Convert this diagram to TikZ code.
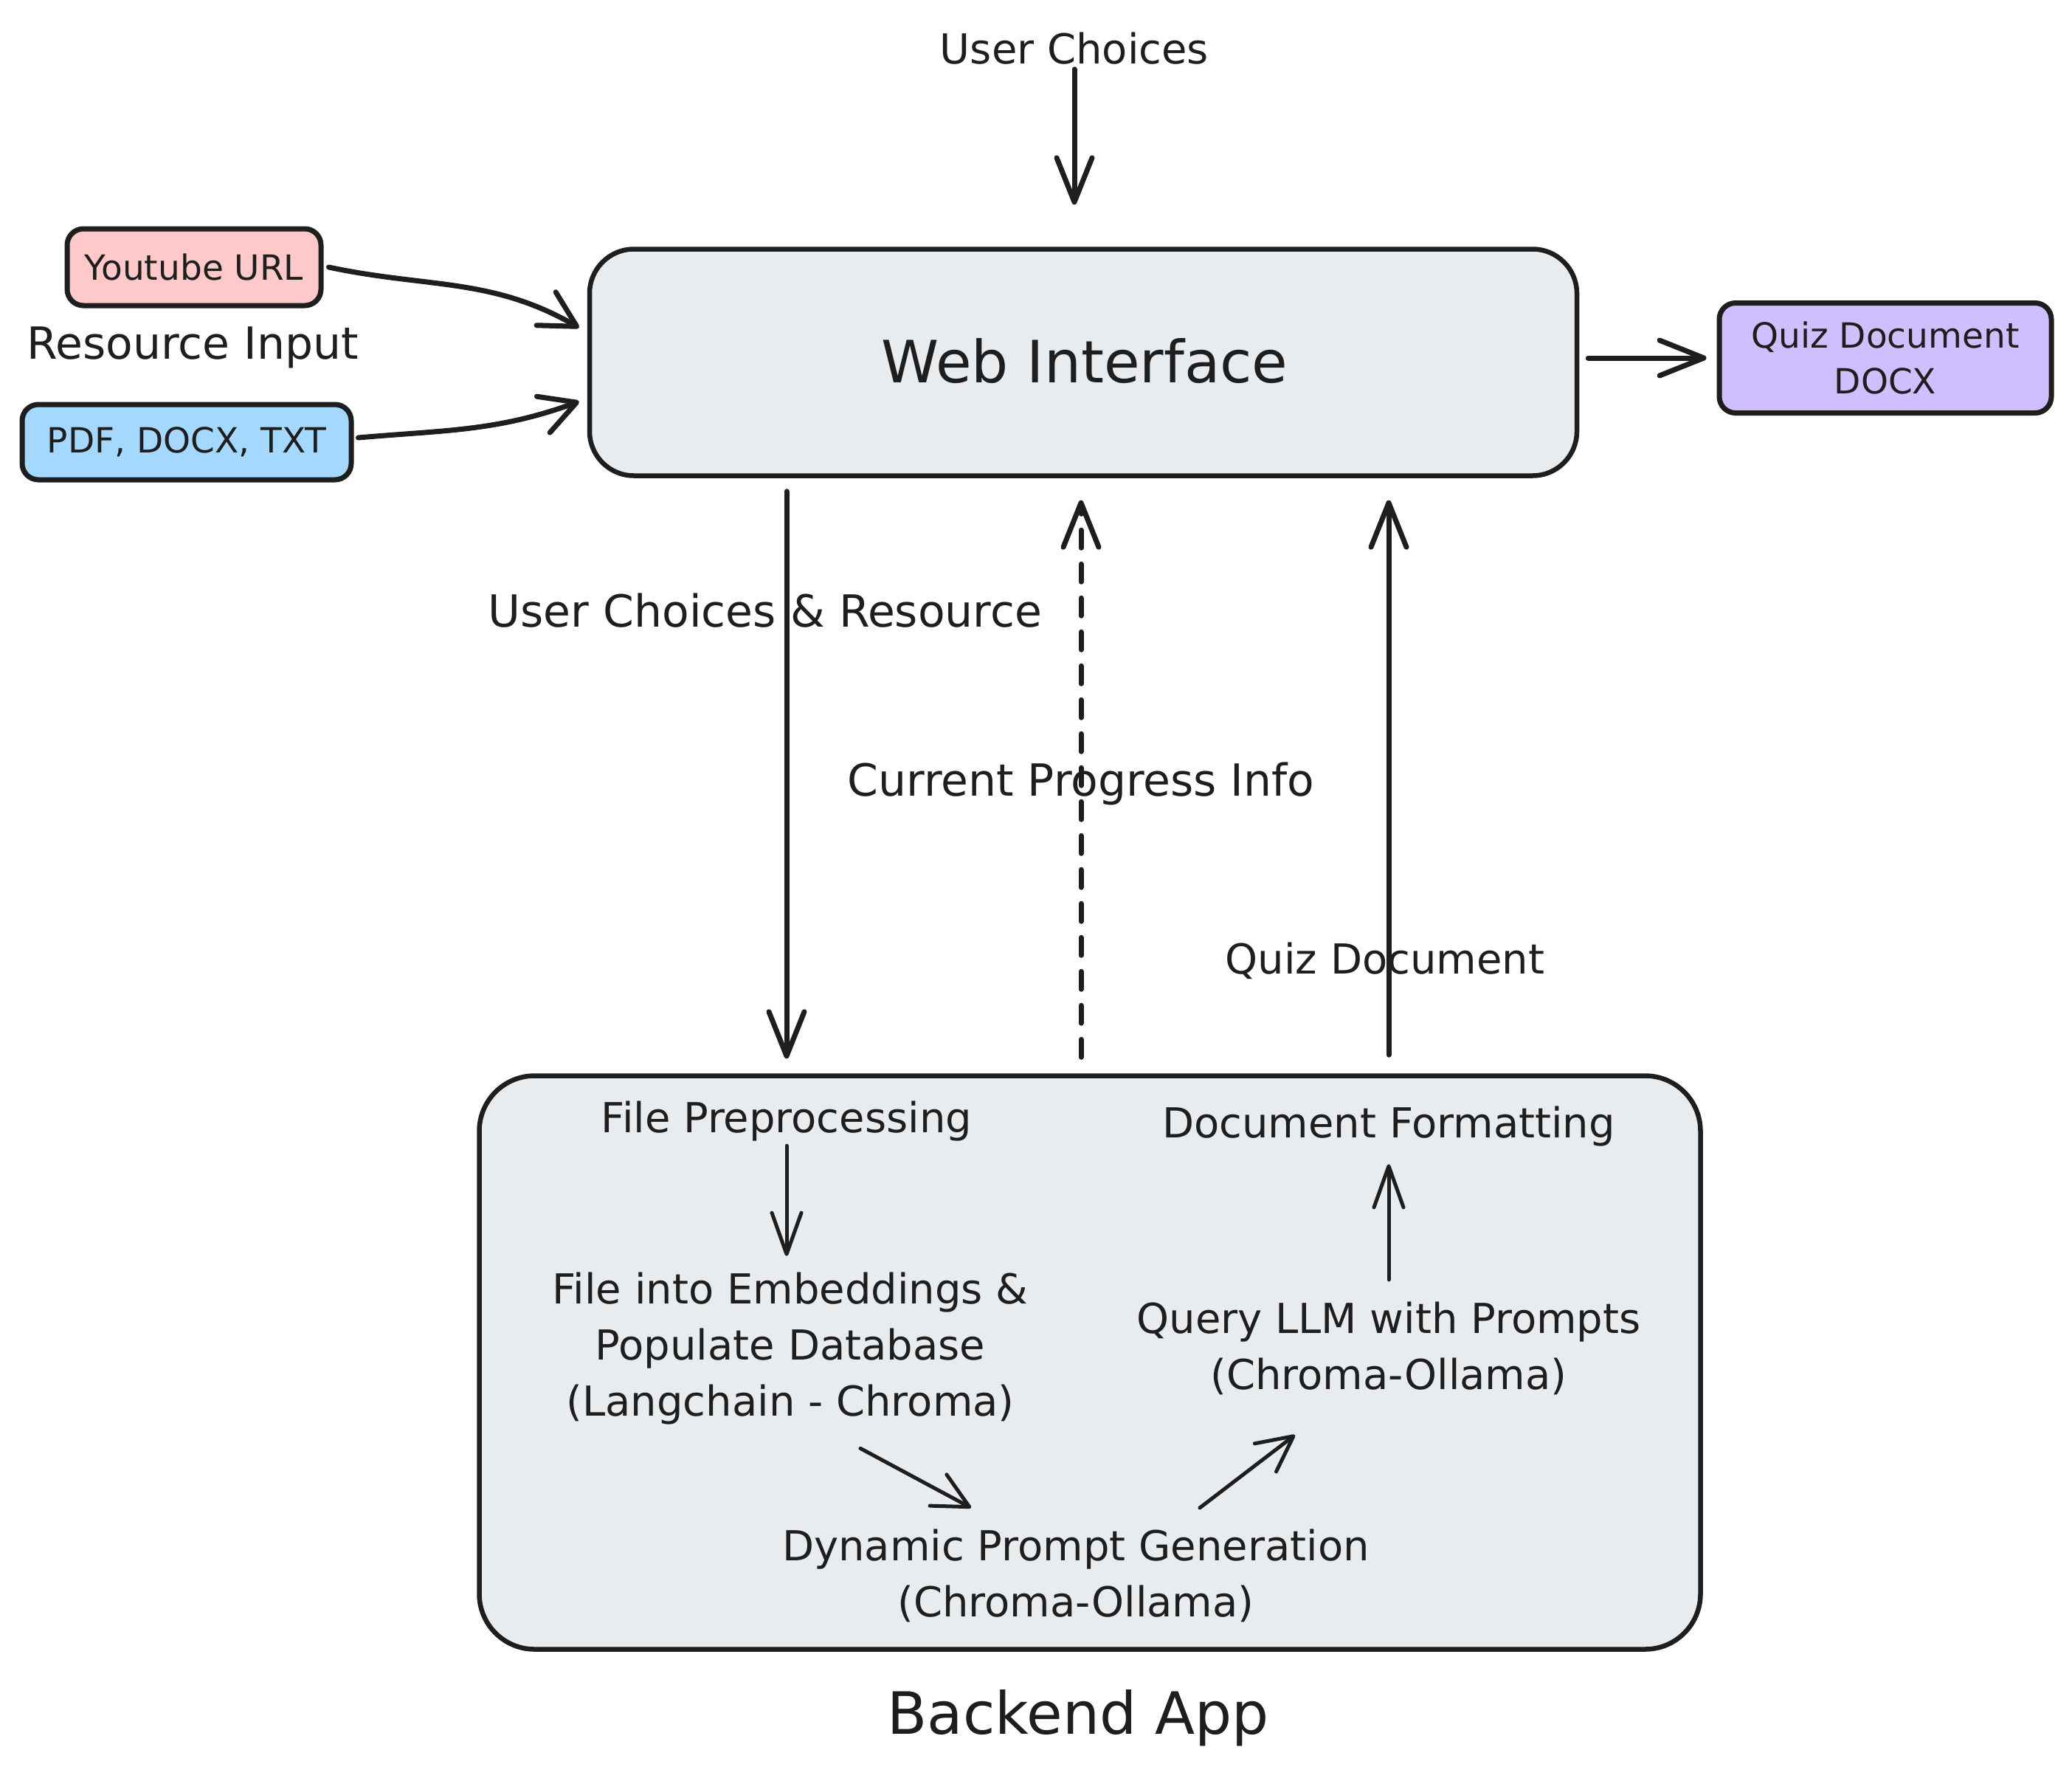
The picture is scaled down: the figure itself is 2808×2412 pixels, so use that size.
\documentclass[tikz,border=0pt]{standalone}
\usepackage{fontspec}
\setmainfont{DejaVu Sans}
\usetikzlibrary{arrows.meta,calc}
\definecolor{ink}{HTML}{1E1E1E}
\definecolor{panel}{HTML}{E9ECEF}
\definecolor{pinkfill}{HTML}{FFC9C9}
\definecolor{bluefill}{HTML}{A5D8FF}
\definecolor{lavfill}{HTML}{D0BFFF}
\begin{document}
\begin{tikzpicture}[x=1pt,y=-1pt,
  box/.style={draw=ink, line width=7pt, rounded corners=22pt, inner sep=0pt, align=center, text=ink,
    font=\fontsize{47}{62}\selectfont},
  bigbox/.style={draw=ink, fill=panel, line width=6.5pt, inner sep=0pt},
  lbl/.style={text=ink, align=center, inner sep=0pt, font=\fontsize{56}{76}\selectfont},
  widelbl/.style={lbl, font=\fontsize{60}{76}\selectfont},
  biglbl/.style={text=ink, inner sep=0pt, font=\fontsize{79}{90}\selectfont},
  arr/.style={draw=ink, line width=7pt, line cap=round, -{Straight Barb[length=60pt,width=48pt,line join=round,line cap=round]}},
  sidearr/.style={arr, -{Straight Barb[length=48pt,width=52pt,line join=round,line cap=round]}},
  inarr/.style={draw=ink, line width=5pt, line cap=round, -{Straight Barb[length=56pt,width=40pt,line join=round,line cap=round]}},
  diagarr/.style={inarr, -{Straight Barb[length=48pt,width=48pt,line join=round,line cap=round]}}
]
\path[use as bounding box] (0,0) rectangle (2808,2412);

% main boxes
\node[bigbox, rounded corners=60pt, minimum width=1338pt, minimum height=307pt] (web) at (1468,491) {};
\node[biglbl] (webt) at (1470,489) {Web Interface};
\node[bigbox, rounded corners=75pt, minimum width=1655pt, minimum height=777pt] (bk) at (1477,1846) {};
\node[biglbl] (bkt) at (1461,2328) {Backend App};

% input / output boxes
\node[box, fill=pinkfill, minimum width=344pt, minimum height=104pt] (yt) at (263,362) {Youtube URL};
\node[box, fill=bluefill, minimum width=446pt, minimum height=102pt] (pdf) at (253,599) {PDF, DOCX, TXT};
\node[box, fill=lavfill, minimum width=450pt, minimum height=149pt] (quiz) at (2555,485) {Quiz Document\\DOCX};

% labels
\node[lbl] (user) at (1456,66) {User Choices};
\node[widelbl] (res) at (261,471) {Resource Input};
\node[widelbl] (ucr) at (1037,827) {User Choices \& Resource};
\node[widelbl] (prog) at (1465,1062) {Current Progress Info};
\node[lbl] (qdl) at (1877,1302) {Quiz Document};

% backend steps
\node[lbl] (fp) at (1066,1519) {File Preprocessing};
\node[lbl] (emb) at (1071,1827) {File into Embeddings \&\\Populate Database\\(Langchain - Chroma)};
\node[lbl] (dyn) at (1458,2135) {Dynamic Prompt Generation\\(Chroma-Ollama)};
\node[lbl] (qry) at (1882,1827) {Query LLM with Prompts\\(Chroma-Ollama)};
\node[lbl] (df) at (1882,1526) {Document Formatting};

% outer connectors
\draw[arr, shorten <=6pt, shorten >=57pt] (user.south) -- (user.south |- web.north);
\draw[sidearr] ($(yt.east)+(7,0)$) to[out=-12, in=150] ($(web.west)+(-11,-47)$);
\draw[sidearr] ($(pdf.east)+(6,-6)$) to[out=5, in=200] ($(web.west)+(-11,53)$);
\draw[arr, shorten <=12pt, shorten >=14pt] (web.east |- quiz) -- (quiz.west);
\draw[arr, shorten <=18pt, shorten >=20pt] (web.south -| fp) -- (bk.north -| fp);
\draw[arr, dash pattern=on 24pt off 22pt, shorten <=22pt, shorten >=30pt] (bk.north -| prog) -- (web.south -| prog);
\draw[arr, shorten <=25pt, shorten >=30pt] (bk.north -| df) -- (web.south -| df);

% inner connectors
\draw[inarr, shorten <=6pt, shorten >=22pt] (fp.south) -- (fp.south |- emb.north);
\draw[diagarr] ($(emb.south)+(95,32)$) -- ($(dyn.north)+(-142,-29)$);
\draw[diagarr] ($(dyn.north)+(168,-29)$) -- ($(qry.south)+(-127,54)$);
\draw[inarr, shorten <=30pt, shorten >=24pt] (qry.north -| df) -- (df.south);
\end{tikzpicture}
\end{document}
